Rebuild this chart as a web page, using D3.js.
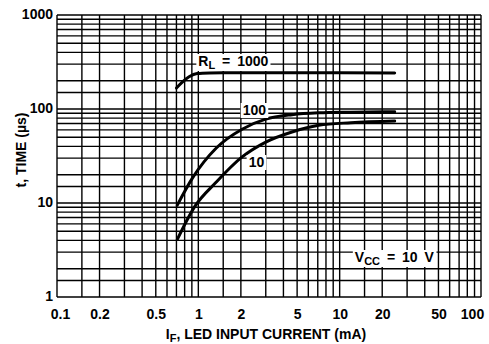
<!DOCTYPE html>
<html>
<head>
<meta charset="utf-8">
<script src="https://cdn.jsdelivr.net/npm/d3@7"></script>
<style>
  html, body { margin: 0; padding: 0; background: #fff; }
  svg text { font-family: 'Liberation Sans Narrow', 'Arial Narrow', 'Liberation Sans', sans-serif; font-weight: bold; fill: #000; }
</style>
</head>
<body>
<svg id="chart" width="489" height="344"></svg>
<script>
// ---- data ----
const xTickValues = [0.1, 0.2, 0.5, 1, 2, 5, 10, 20, 50, 100];
const xTickLabels = ["0.1", "0.2", "0.5", "1", "2", "5", "10", "20", "50", "100"];
const yTickValues = [1, 10, 100, 1000];
const yTickLabels = ["1", "10", "100", "1000"];
const gridMultipliers = [1, 1.5, 2, 3, 4, 5, 6, 7, 8, 9];

// I_F (mA), t (µs)
const curveRL1000 = [[0.70, 167], [0.77, 193], [0.86, 220], [0.98, 238], [1.2, 242], [1.5, 243], [3, 243], [10, 243], [24.5, 241]];
const curveRL100  = [[0.71, 9.5], [0.91, 18.5], [1.34, 38.5], [2.04, 61], [3.0, 78], [4.6, 87], [7.1, 91], [12, 92.5], [24.5, 93.5]];
const curveRL10   = [[0.71, 4.1], [0.94, 9.1], [1.34, 16.7], [2.04, 30.9], [3.0, 44.5], [4.6, 57], [7.1, 67], [12, 71.5], [24.5, 74.5]];

// ---- layout ----
const svg = d3.select("#chart");
const x = d3.scaleLog().domain([0.1, 100]).range([57, 481]);
const y = d3.scaleLog().domain([1, 1000]).range([297, 15]);

// grid values
const gridX = [], gridY = [];
[0.1, 1, 10].forEach(d => gridMultipliers.forEach(m => gridX.push(d * m)));
gridX.push(100);
[1, 10, 100].forEach(d => gridMultipliers.forEach(m => gridY.push(d * m)));
gridY.push(1000);

const g = svg.append("g");
g.selectAll("line.gx").data(gridX).enter().append("line")
  .attr("x1", d => x(d)).attr("x2", d => x(d))
  .attr("y1", y(1)).attr("y2", y(1000))
  .attr("stroke", "#000").attr("stroke-width", 1.4);
g.selectAll("line.gy").data(gridY).enter().append("line")
  .attr("y1", d => y(d)).attr("y2", d => y(d))
  .attr("x1", x(0.1)).attr("x2", x(100))
  .attr("stroke", "#000").attr("stroke-width", 1.4);

// curves
const line = d3.line().x(d => x(d[0])).y(d => y(d[1])).curve(d3.curveMonotoneX);
[curveRL1000, curveRL100, curveRL10].forEach(c => {
  g.append("path").attr("d", line(c)).attr("fill", "none")
    .attr("stroke", "#000").attr("stroke-width", 3).attr("stroke-linecap", "round");
});

// axis tick labels
const xAxis = d3.axisBottom(x).tickValues(xTickValues).tickFormat((d, i) => xTickLabels[i]).tickSize(0).tickPadding(0);
const xa = svg.append("g").attr("transform", `translate(0,${y(1)})`).call(xAxis);
xa.select(".domain").remove();
xa.selectAll("text").attr("dy", null).attr("y", 22).style("font-size", "14px")
  .attr("dx", (d, i) => i === 0 ? 3 : (i === xTickValues.length - 1 ? -9 : 0));

const yAxis = d3.axisLeft(y).tickValues(yTickValues).tickFormat((d, i) => yTickLabels[i]).tickSize(0).tickPadding(0);
const ya = svg.append("g").attr("transform", `translate(${x(0.1) - 4},0)`).call(yAxis);
ya.select(".domain").remove();
ya.selectAll("text").style("font-size", "14px").attr("dy", "0.25em");

// axis titles
const xt = svg.append("text").attr("x", 266).attr("y", 339).attr("text-anchor", "middle").style("font-size", "14px");
xt.append("tspan").text("I");
xt.append("tspan").text("F").attr("dy", 3).style("font-size", "11px");
xt.append("tspan").text(", LED INPUT CURRENT (mA)").attr("dy", -3);

svg.append("text").attr("transform", "translate(26,150) rotate(-90)")
  .attr("text-anchor", "middle").style("font-size", "14px").text("t, TIME (\u00b5s)");

// in-plot labels with white backgrounds
function label(px, py, parts) {
  const t = svg.append("text").attr("x", px).attr("y", py).style("font-size", "14px").style("word-spacing", "3px");
  parts.forEach(p => {
    const s = t.append("tspan").text(p.t);
    if (p.sub) s.attr("dy", 3).style("font-size", "11px");
    if (p.after) s.attr("dy", -3);
  });
  const bb = t.node().getBBox();
  svg.insert("rect", function () { return t.node(); })
    .attr("x", bb.x - 2).attr("y", bb.y + 1).attr("width", bb.width + 4).attr("height", bb.height - 1)
    .attr("fill", "#fff");
}
label(x(1.0), 66, [{t: "R"}, {t: "L", sub: true}, {t: " = 1000", after: true}]);
label(x(2.06), 115, [{t: "100"}]);
label(x(2.27), 167, [{t: "10"}]);
label(x(12.8), 262, [{t: "V"}, {t: "CC", sub: true}, {t: " = 10 V", after: true}]);
</script>
</body>
</html>
